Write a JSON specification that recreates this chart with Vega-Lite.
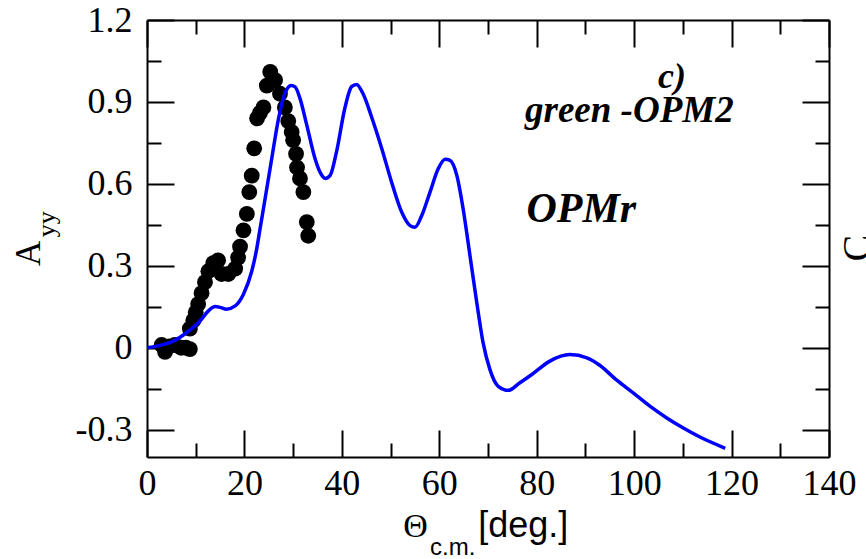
{
  "$schema": "https://vega.github.io/schema/vega-lite/v6.json",
  "width": 682,
  "height": 437,
  "autosize": {"type": "none"},
  "padding": {"left": 147, "top": 20, "right": 37, "bottom": 102},
  "background": "white",
  "config": {
    "view": {"stroke": null},
    "axis": {"grid": false, "domainColor": "black", "domainWidth": 2, "tickColor": "black", "tickWidth": 2, "labelColor": "black", "labelFont": "Liberation Serif", "labelFontSize": 36, "labelFlush": false, "labelOverlap": false, "labelBound": false, "title": null}
  },
  "resolve": {"axis": {"x": "independent", "y": "independent"}},
  "layer": [
    {
      "data": {"values": [
        {"x": 3.0, "y": 0.01}, {"x": 3.7, "y": -0.015}, {"x": 4.5, "y": 0.005}, {"x": 5.7, "y": 0.01}, {"x": 7.0, "y": 0.0}, {"x": 8.0, "y": 0.0}, {"x": 8.8, "y": -0.005},
        {"x": 8.8, "y": 0.07}, {"x": 9.5, "y": 0.1}, {"x": 10.0, "y": 0.13}, {"x": 10.5, "y": 0.16}, {"x": 11.2, "y": 0.2}, {"x": 11.9, "y": 0.24}, {"x": 12.6, "y": 0.28},
        {"x": 13.6, "y": 0.31}, {"x": 14.6, "y": 0.32}, {"x": 15.3, "y": 0.27}, {"x": 16.7, "y": 0.27}, {"x": 18.1, "y": 0.29}, {"x": 18.7, "y": 0.33}, {"x": 19.1, "y": 0.37},
        {"x": 19.8, "y": 0.43}, {"x": 20.5, "y": 0.49}, {"x": 21.0, "y": 0.57}, {"x": 21.5, "y": 0.63}, {"x": 22.0, "y": 0.73}, {"x": 22.6, "y": 0.84}, {"x": 23.2, "y": 0.86},
        {"x": 23.9, "y": 0.88}, {"x": 24.6, "y": 0.96}, {"x": 25.3, "y": 1.01}, {"x": 26.3, "y": 0.98}, {"x": 27.3, "y": 0.93}, {"x": 28.3, "y": 0.88}, {"x": 29.0, "y": 0.83},
        {"x": 29.7, "y": 0.79}, {"x": 30.0, "y": 0.76}, {"x": 30.6, "y": 0.71}, {"x": 30.8, "y": 0.66}, {"x": 31.4, "y": 0.62}, {"x": 32.1, "y": 0.57}, {"x": 32.8, "y": 0.46}, {"x": 33.1, "y": 0.41}
      ]},
      "mark": {"type": "circle", "size": 250, "color": "black", "opacity": 1},
      "encoding": {
        "x": {"field": "x", "type": "quantitative", "scale": {"domain": [0, 140], "nice": false, "zero": false},
              "axis": {"orient": "bottom", "values": [0, 20, 40, 60, 80, 100, 120, 140], "tickSize": -27, "labelPadding": 36}},
        "y": {"field": "y", "type": "quantitative", "scale": {"domain": [-0.4, 1.2], "nice": false, "zero": false},
              "axis": {"orient": "left", "values": [-0.3, 0, 0.3, 0.6, 0.9, 1.2], "tickSize": -27, "labelPadding": 42,
                       "labelExpr": "datum.value < 0 ? '-' + format(-datum.value, '.1f') : (datum.value == 0 ? '0' : format(datum.value, '.1f'))"}}
      }
    },
    {
      "data": {"values": [
        {"x": 0, "y": 0}, {"x": 2, "y": 0.006}, {"x": 5.4, "y": 0.024}, {"x": 8.1, "y": 0.055}, {"x": 10.9, "y": 0.098}, {"x": 12.6, "y": 0.135}, {"x": 14, "y": 0.151},
        {"x": 15.2, "y": 0.147}, {"x": 16.3, "y": 0.141}, {"x": 18.1, "y": 0.153}, {"x": 19.8, "y": 0.196}, {"x": 21.5, "y": 0.28}, {"x": 22.5, "y": 0.36}, {"x": 23.2, "y": 0.435},
        {"x": 23.9, "y": 0.509}, {"x": 25.6, "y": 0.692}, {"x": 27.0, "y": 0.839}, {"x": 28.3, "y": 0.931}, {"x": 29.6, "y": 0.96}, {"x": 30.4, "y": 0.955}, {"x": 31.4, "y": 0.913},
        {"x": 32.8, "y": 0.815}, {"x": 34.5, "y": 0.692}, {"x": 35.6, "y": 0.64}, {"x": 36.6, "y": 0.62}, {"x": 37.6, "y": 0.631}, {"x": 38.9, "y": 0.717}, {"x": 40.6, "y": 0.876},
        {"x": 42.0, "y": 0.956}, {"x": 43.0, "y": 0.964}, {"x": 44.4, "y": 0.928}, {"x": 46.1, "y": 0.845}, {"x": 48.2, "y": 0.729}, {"x": 50.2, "y": 0.607}, {"x": 52.3, "y": 0.496},
        {"x": 54.0, "y": 0.447}, {"x": 55.0, "y": 0.441}, {"x": 56.4, "y": 0.484}, {"x": 58.1, "y": 0.57}, {"x": 59.8, "y": 0.656}, {"x": 61.2, "y": 0.69}, {"x": 62.2, "y": 0.686},
        {"x": 63.6, "y": 0.631}, {"x": 64.9, "y": 0.508}, {"x": 66.3, "y": 0.337}, {"x": 67.7, "y": 0.165}, {"x": 69.0, "y": 0.018}, {"x": 70.4, "y": -0.08}, {"x": 72.1, "y": -0.141},
        {"x": 74.2, "y": -0.156}, {"x": 76.4, "y": -0.13}, {"x": 79.0, "y": -0.098}, {"x": 82.7, "y": -0.049}, {"x": 86.8, "y": -0.025}, {"x": 90.3, "y": -0.037}, {"x": 93.0, "y": -0.065},
        {"x": 96.3, "y": -0.117}, {"x": 99.8, "y": -0.165}, {"x": 103.3, "y": -0.215}, {"x": 106.7, "y": -0.257}, {"x": 110.1, "y": -0.294}, {"x": 113.5, "y": -0.327}, {"x": 118.7, "y": -0.368}
      ]},
      "mark": {"type": "line", "interpolate": "monotone", "strokeWidth": 3.5, "color": "#0000ff"},
      "encoding": {
        "x": {"field": "x", "type": "quantitative", "scale": {"domain": [0, 140], "nice": false, "zero": false},
              "axis": {"orient": "bottom", "values": [10, 30, 50, 70, 90, 110, 130], "tickSize": -14, "labels": false, "domain": false}},
        "y": {"field": "y", "type": "quantitative", "scale": {"domain": [-0.4, 1.2], "nice": false, "zero": false},
              "axis": {"orient": "left", "values": [-0.15, 0.15, 0.45, 0.75, 1.05], "tickSize": -14, "labels": false, "domain": false}}
      }
    },
    {
      "data": {"values": [{"x": 104.9, "y": 0.95, "t": "c)"}]},
      "mark": {"type": "text", "align": "left", "baseline": "alphabetic", "font": "Liberation Serif", "fontStyle": "italic", "fontWeight": "bold", "fontSize": 36, "color": "black"},
      "encoding": {
        "x": {"field": "x", "type": "quantitative", "scale": {"domain": [0, 140], "nice": false, "zero": false},
              "axis": {"orient": "top", "values": [0, 20, 40, 60, 80, 100, 120, 140], "tickSize": -27, "labels": false}},
        "y": {"field": "y", "type": "quantitative", "scale": {"domain": [-0.4, 1.2], "nice": false, "zero": false},
              "axis": {"orient": "right", "values": [-0.3, 0, 0.3, 0.6, 0.9, 1.2], "tickSize": -27, "labels": false}},
        "text": {"field": "t"}
      }
    },
    {
      "data": {"values": [{"x": 77.6, "y": 0.827, "t": "green -OPM2"}]},
      "mark": {"type": "text", "align": "left", "baseline": "alphabetic", "font": "Liberation Serif", "fontStyle": "italic", "fontWeight": "bold", "fontSize": 37, "color": "black"},
      "encoding": {
        "x": {"field": "x", "type": "quantitative", "scale": {"domain": [0, 140], "nice": false, "zero": false},
              "axis": {"orient": "top", "values": [10, 30, 50, 70, 90, 110, 130], "tickSize": -14, "labels": false, "domain": false}},
        "y": {"field": "y", "type": "quantitative", "scale": {"domain": [-0.4, 1.2], "nice": false, "zero": false},
              "axis": {"orient": "right", "values": [-0.15, 0.15, 0.45, 0.75, 1.05], "tickSize": -14, "labels": false, "domain": false}},
        "text": {"field": "t"}
      }
    },
    {
      "data": {"values": [{"x": 77.9, "y": 0.46, "t": "OPMr"}]},
      "mark": {"type": "text", "align": "left", "baseline": "alphabetic", "font": "Liberation Serif", "fontStyle": "italic", "fontWeight": "bold", "fontSize": 42, "color": "black"},
      "encoding": {
        "x": {"field": "x", "type": "quantitative", "axis": null},
        "y": {"field": "y", "type": "quantitative", "axis": null},
        "text": {"field": "t"}
      }
    },
    {
      "data": {"values": [{"x": 52.6, "y": -0.694, "t": "Θ"}]},
      "mark": {"type": "text", "align": "left", "baseline": "alphabetic", "font": "Liberation Serif", "fontSize": 34, "color": "black"},
      "encoding": {
        "x": {"field": "x", "type": "quantitative", "axis": null},
        "y": {"field": "y", "type": "quantitative", "axis": null},
        "text": {"field": "t"}
      }
    },
    {
      "data": {"values": [{"x": 58.1, "y": -0.76, "t": "c.m."}]},
      "mark": {"type": "text", "align": "left", "baseline": "alphabetic", "font": "Liberation Sans", "fontSize": 24, "color": "black"},
      "encoding": {
        "x": {"field": "x", "type": "quantitative", "axis": null},
        "y": {"field": "y", "type": "quantitative", "axis": null},
        "text": {"field": "t"}
      }
    },
    {
      "data": {"values": [{"x": 68.0, "y": -0.694, "t": "[deg.]"}]},
      "mark": {"type": "text", "align": "left", "baseline": "alphabetic", "font": "Liberation Sans", "fontSize": 36, "color": "black"},
      "encoding": {
        "x": {"field": "x", "type": "quantitative", "axis": null},
        "y": {"field": "y", "type": "quantitative", "axis": null},
        "text": {"field": "t"}
      }
    },
    {
      "data": {"values": [{"x": -21.97, "y": 0.299, "t": "A"}]},
      "mark": {"type": "text", "align": "left", "baseline": "alphabetic", "angle": 270, "font": "Liberation Serif", "fontSize": 35, "color": "black"},
      "encoding": {
        "x": {"field": "x", "type": "quantitative", "axis": null},
        "y": {"field": "y", "type": "quantitative", "axis": null},
        "text": {"field": "t"}
      }
    },
    {
      "data": {"values": [{"x": -18.9, "y": 0.405, "t": "yy"}]},
      "mark": {"type": "text", "align": "left", "baseline": "alphabetic", "angle": 270, "font": "Liberation Serif", "fontSize": 26, "color": "black"},
      "encoding": {
        "x": {"field": "x", "type": "quantitative", "axis": null},
        "y": {"field": "y", "type": "quantitative", "axis": null},
        "text": {"field": "t"}
      }
    },
    {
      "data": {"values": [{"x": 148.5, "y": 0.365, "t": "C"}]},
      "mark": {"type": "text", "align": "center", "baseline": "alphabetic", "angle": 270, "font": "Liberation Serif", "fontSize": 40, "color": "black"},
      "encoding": {
        "x": {"field": "x", "type": "quantitative", "axis": null},
        "y": {"field": "y", "type": "quantitative", "axis": null},
        "text": {"field": "t"}
      }
    }
  ]
}
